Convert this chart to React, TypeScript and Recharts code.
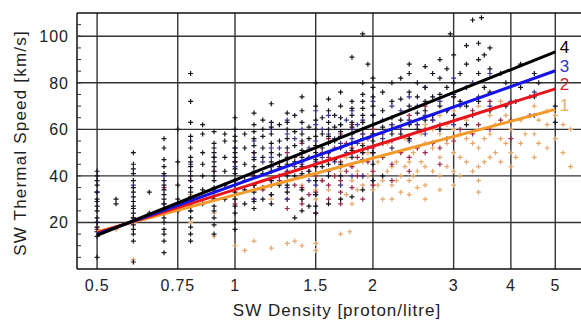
import { ScatterChart, Scatter, XAxis, YAxis, CartesianGrid, ReferenceLine } from 'recharts'

const xTicks = [0.5, 0.75, 1, 1.5, 2, 3, 4, 5]
const yLabelTicks = [20, 40, 60, 80, 100]
const yAllTicks = [5, 10, 15, 20, 25, 30, 35, 40, 45, 50, 55, 60, 65, 70, 75, 80, 85, 90, 95, 100, 105]

// fitted lines, end points at 0.5 and 5 protons/litre
const fit1 = [{ x: 0.5, y: 16 }, { x: 5, y: 68.6 }]
const fit2 = [{ x: 0.5, y: 15.5 }, { x: 5, y: 77.4 }]
const fit3 = [{ x: 0.5, y: 15 }, { x: 5, y: 85.2 }]
const fit4 = [{ x: 0.5, y: 14.5 }, { x: 5, y: 93.3 }]

const group4Pts: [number, number][] = [
  [0.5, 5], [0.5, 14], [0.5, 16], [0.5, 18], [0.5, 20], [0.5, 22], [0.5, 25], [0.5, 27], [0.5, 29], [0.5, 30], [0.5, 33], [0.5, 36], [0.5, 38], [0.5, 40], [0.5, 42],
  [0.55, 28], [0.55, 30],
  [0.6, 3], [0.6, 12], [0.6, 15], [0.6, 17], [0.6, 19], [0.6, 22], [0.6, 24], [0.6, 26], [0.6, 27], [0.6, 29], [0.6, 31], [0.6, 33], [0.6, 35], [0.6, 38], [0.6, 41], [0.6, 43], [0.6, 45], [0.6, 50],
  [0.65, 33], [0.65, 24],
  [0.7, 7], [0.7, 12], [0.7, 15], [0.7, 17], [0.7, 20], [0.7, 22], [0.7, 26], [0.7, 28], [0.7, 30], [0.7, 32], [0.7, 34], [0.7, 36], [0.7, 38], [0.7, 41], [0.7, 44], [0.7, 47], [0.7, 52], [0.7, 56],
  [0.75, 25], [0.75, 30], [0.75, 36], [0.75, 46], [0.75, 60],
  [0.8, 12], [0.8, 15], [0.8, 18], [0.8, 22], [0.8, 25], [0.8, 27], [0.8, 29], [0.8, 31], [0.8, 33], [0.8, 35], [0.8, 38], [0.8, 40], [0.8, 42], [0.8, 44], [0.8, 46], [0.8, 48], [0.8, 52], [0.8, 55], [0.8, 57], [0.8, 63], [0.8, 72], [0.8, 84],
  [0.85, 28], [0.85, 34], [0.85, 40], [0.85, 45], [0.85, 50], [0.85, 58], [0.85, 62],
  [0.9, 15], [0.9, 19], [0.9, 22], [0.9, 25], [0.9, 27], [0.9, 30], [0.9, 33], [0.9, 35], [0.9, 38], [0.9, 40], [0.9, 42], [0.9, 44], [0.9, 46], [0.9, 48], [0.9, 50], [0.9, 52], [0.9, 54], [0.9, 59],
  [0.95, 30], [0.95, 36], [0.95, 42], [0.95, 48], [0.95, 55], [0.95, 58],
  [1.0, 17], [1.0, 20], [1.0, 24], [1.0, 27], [1.0, 30], [1.0, 33], [1.0, 36], [1.0, 38], [1.0, 41], [1.0, 43], [1.0, 46], [1.0, 48], [1.0, 50], [1.0, 52], [1.0, 55], [1.0, 57], [1.0, 60], [1.0, 65],
  [1.05, 28], [1.05, 34], [1.05, 38], [1.05, 45], [1.05, 52], [1.05, 58],
  [1.1, 26], [1.1, 29], [1.1, 33], [1.1, 36], [1.1, 40], [1.1, 44], [1.1, 47], [1.1, 50], [1.1, 53], [1.1, 56], [1.1, 59], [1.1, 62], [1.1, 67],
  [1.15, 30], [1.15, 35], [1.15, 41], [1.15, 48], [1.15, 52], [1.15, 57], [1.15, 60], [1.15, 64],
  [1.2, 28], [1.2, 32], [1.2, 38], [1.2, 42], [1.2, 46], [1.2, 50], [1.2, 54], [1.2, 58], [1.2, 61], [1.2, 63], [1.2, 71],
  [1.25, 36], [1.25, 44], [1.25, 49], [1.25, 55], [1.25, 62],
  [1.3, 33], [1.3, 36], [1.3, 40], [1.3, 45], [1.3, 48], [1.3, 52], [1.3, 56], [1.3, 60], [1.3, 63], [1.3, 67],
  [1.35, 22], [1.35, 40], [1.35, 46], [1.35, 53], [1.35, 59], [1.35, 66],
  [1.4, 25], [1.4, 30], [1.4, 34], [1.4, 41], [1.4, 44], [1.4, 48], [1.4, 51], [1.4, 55], [1.4, 58], [1.4, 63], [1.4, 68], [1.4, 74],
  [1.45, 27], [1.45, 42], [1.45, 48], [1.45, 56], [1.45, 61],
  [1.5, 24], [1.5, 27], [1.5, 32], [1.5, 38], [1.5, 44], [1.5, 47], [1.5, 50], [1.5, 53], [1.5, 57], [1.5, 60], [1.5, 64], [1.5, 70], [1.5, 80],
  [1.55, 44], [1.55, 52], [1.55, 58], [1.55, 65],
  [1.6, 28], [1.6, 40], [1.6, 45], [1.6, 50], [1.6, 54], [1.6, 57], [1.6, 60], [1.6, 63], [1.6, 68], [1.6, 73],
  [1.65, 47], [1.65, 55], [1.65, 61], [1.65, 66],
  [1.7, 30], [1.7, 40], [1.7, 45], [1.7, 52], [1.7, 57], [1.7, 59], [1.7, 62], [1.7, 65], [1.7, 70], [1.7, 76],
  [1.8, 31], [1.8, 48], [1.8, 51], [1.8, 54], [1.8, 58], [1.8, 61], [1.8, 63], [1.8, 66], [1.8, 69], [1.8, 72], [1.8, 91],
  [1.9, 34], [1.9, 50], [1.9, 53], [1.9, 56], [1.9, 60], [1.9, 63], [1.9, 66], [1.9, 69], [1.9, 72], [1.9, 75], [1.9, 80], [1.9, 101],
  [1.95, 88],
  [2.0, 38], [2.0, 45], [2.0, 50], [2.0, 55], [2.0, 58], [2.0, 62], [2.0, 66], [2.0, 70], [2.0, 74], [2.0, 78], [2.0, 82],
  [2.1, 40], [2.1, 54], [2.1, 61], [2.1, 68], [2.1, 76],
  [2.2, 58], [2.2, 60], [2.2, 65], [2.2, 72], [2.2, 80],
  [2.3, 58], [2.3, 64], [2.3, 73], [2.3, 82],
  [2.4, 56], [2.4, 62], [2.4, 70], [2.4, 76], [2.4, 84], [2.4, 88],
  [2.5, 60], [2.5, 67], [2.5, 74], [2.5, 80],
  [2.6, 64], [2.6, 68], [2.6, 72], [2.6, 78], [2.6, 87],
  [2.7, 66], [2.7, 74], [2.7, 84],
  [2.8, 60], [2.8, 70], [2.8, 75], [2.8, 82], [2.8, 90],
  [2.9, 68], [2.9, 78], [2.9, 86],
  [2.95, 101],
  [3.0, 66], [3.0, 74], [3.0, 80], [3.0, 92],
  [3.1, 72], [3.1, 84],
  [3.2, 62], [3.2, 70], [3.2, 78], [3.2, 88], [3.2, 96],
  [3.3, 107], [3.45, 108], [3.4, 97],
  [3.4, 72], [3.4, 84], [3.4, 90],
  [3.5, 78], [3.5, 92],
  [3.6, 68], [3.6, 76], [3.6, 86], [3.6, 95],
  [3.8, 84],
  [3.9, 70], [3.9, 80],
  [4.1, 72],
  [4.2, 78], [4.2, 88],
  [4.5, 74], [4.5, 84], [4.6, 80],
  [5.0, 63], [5.0, 70],
]

const group3Pts: [number, number][] = [
  [0.5, 20], [0.5, 33],
  [0.6, 22], [0.6, 36],
  [0.7, 28], [0.7, 40],
  [0.8, 25], [0.8, 30], [0.8, 45],
  [0.9, 34], [0.9, 48],
  [1.0, 32], [1.0, 44], [1.0, 52],
  [1.1, 30], [1.1, 36], [1.1, 42], [1.1, 48], [1.1, 55],
  [1.15, 46],
  [1.2, 38], [1.2, 44], [1.2, 48], [1.2, 52], [1.2, 60],
  [1.25, 40], [1.25, 52],
  [1.3, 30], [1.3, 35], [1.3, 42], [1.3, 47], [1.3, 58], [1.3, 64],
  [1.35, 44], [1.35, 56],
  [1.4, 40], [1.4, 45], [1.4, 50], [1.4, 60],
  [1.45, 38], [1.45, 52],
  [1.5, 32], [1.5, 36], [1.5, 46], [1.5, 55], [1.5, 62], [1.5, 68],
  [1.55, 48], [1.55, 60],
  [1.6, 42], [1.6, 50], [1.6, 58], [1.6, 66],
  [1.65, 46], [1.65, 56],
  [1.7, 36], [1.7, 44], [1.7, 54], [1.7, 62],
  [1.75, 50], [1.75, 64],
  [1.8, 40], [1.8, 50], [1.8, 56], [1.8, 60], [1.8, 68],
  [1.85, 54], [1.85, 62],
  [1.9, 40], [1.9, 47], [1.9, 58], [1.9, 64],
  [1.95, 52],
  [2.0, 50], [2.0, 58], [2.0, 66], [2.0, 72],
  [2.1, 56], [2.1, 64],
  [2.2, 52], [2.2, 62], [2.2, 70],
  [2.3, 60], [2.3, 68],
  [2.4, 55], [2.4, 64], [2.4, 74],
  [2.5, 62], [2.5, 70],
  [2.6, 58], [2.6, 66], [2.6, 78],
  [2.7, 64],
  [2.8, 60], [2.8, 72],
  [2.9, 68],
  [3.0, 62], [3.0, 75], [3.0, 82],
  [3.1, 70],
  [3.3, 66], [3.3, 80],
  [3.4, 74],
  [3.6, 70], [3.6, 84],
  [4.0, 72],
  [4.5, 66], [4.5, 76],
]

const group2Pts: [number, number][] = [
  [0.5, 17],
  [0.6, 20],
  [0.7, 24], [0.7, 35],
  [0.8, 28], [0.8, 38],
  [0.9, 30], [0.9, 42],
  [1.0, 28], [1.0, 38], [1.0, 46],
  [1.1, 30], [1.1, 40], [1.1, 50],
  [1.15, 34],
  [1.2, 32], [1.2, 36], [1.2, 44],
  [1.25, 38], [1.25, 46],
  [1.3, 26], [1.3, 30], [1.3, 42], [1.3, 50],
  [1.35, 36], [1.35, 48],
  [1.4, 28], [1.4, 35], [1.4, 46], [1.4, 54],
  [1.45, 32], [1.45, 42],
  [1.5, 24], [1.5, 33], [1.5, 40], [1.5, 44], [1.5, 52],
  [1.55, 38], [1.55, 50],
  [1.6, 30], [1.6, 36], [1.6, 48], [1.6, 56],
  [1.65, 40], [1.65, 52],
  [1.7, 28], [1.7, 33], [1.7, 38], [1.7, 46], [1.7, 58],
  [1.75, 42], [1.75, 54],
  [1.8, 35], [1.8, 44], [1.8, 52], [1.8, 62],
  [1.85, 40], [1.85, 48],
  [1.9, 30], [1.9, 40], [1.9, 50], [1.9, 58],
  [1.95, 46], [1.95, 56],
  [2.0, 36], [2.0, 42], [2.0, 52], [2.0, 60],
  [2.1, 48], [2.1, 58],
  [2.2, 38], [2.2, 45], [2.2, 55], [2.2, 62],
  [2.3, 50], [2.3, 60],
  [2.4, 42], [2.4, 48], [2.4, 56], [2.4, 66],
  [2.5, 52], [2.5, 62],
  [2.6, 50], [2.6, 60], [2.6, 70],
  [2.7, 54], [2.7, 64],
  [2.8, 45], [2.8, 52], [2.8, 62],
  [2.9, 56],
  [3.0, 55], [3.0, 66], [3.0, 74],
  [3.1, 60],
  [3.3, 58], [3.3, 68],
  [3.4, 62],
  [3.6, 60], [3.6, 72],
  [3.8, 64],
  [4.0, 56], [4.0, 64],
  [4.4, 66], [4.4, 74],
]

const group1Pts: [number, number][] = [
  [0.5, 16], [0.5, 18],
  [0.55, 17],
  [0.6, 4], [0.6, 22],
  [0.7, 26],
  [0.8, 20], [0.8, 32],
  [0.9, 14], [0.9, 24],
  [1.0, 10], [1.0, 30], [1.0, 36],
  [1.05, 8],
  [1.1, 12], [1.1, 34], [1.1, 40],
  [1.2, 9], [1.2, 30], [1.2, 36], [1.2, 42],
  [1.3, 11], [1.3, 33], [1.3, 38], [1.3, 45],
  [1.35, 12],
  [1.4, 10], [1.4, 30], [1.4, 36], [1.4, 44],
  [1.5, 8], [1.5, 11], [1.5, 30], [1.5, 34], [1.5, 40], [1.5, 48],
  [1.55, 38],
  [1.6, 28], [1.6, 34], [1.6, 42], [1.6, 50],
  [1.65, 40],
  [1.7, 15], [1.7, 30], [1.7, 36], [1.7, 42], [1.7, 46],
  [1.75, 32], [1.75, 48],
  [1.78, 16],
  [1.8, 28], [1.8, 38], [1.8, 44], [1.8, 52],
  [1.85, 34], [1.85, 42],
  [1.9, 36], [1.9, 46], [1.9, 54],
  [1.95, 40], [1.95, 50],
  [2.0, 34], [2.0, 42], [2.0, 50], [2.0, 58],
  [2.05, 36], [2.05, 46],
  [2.1, 30], [2.1, 38], [2.1, 48],
  [2.15, 42], [2.15, 54],
  [2.2, 30], [2.2, 36], [2.2, 44], [2.2, 52], [2.2, 60],
  [2.25, 38], [2.25, 46],
  [2.3, 33], [2.3, 40], [2.3, 50],
  [2.35, 44], [2.35, 56],
  [2.4, 32], [2.4, 38], [2.4, 46], [2.4, 56], [2.4, 64],
  [2.45, 40], [2.45, 50],
  [2.5, 35], [2.5, 42], [2.5, 52],
  [2.55, 46], [2.55, 58],
  [2.6, 30], [2.6, 36], [2.6, 44], [2.6, 54], [2.6, 62],
  [2.7, 42], [2.7, 52], [2.7, 60],
  [2.8, 34], [2.8, 40], [2.8, 48], [2.8, 58], [2.8, 66],
  [2.9, 44], [2.9, 54], [2.9, 62],
  [3.0, 36], [3.0, 42], [3.0, 50], [3.0, 60], [3.0, 68],
  [3.1, 40], [3.1, 48], [3.1, 58],
  [3.2, 46], [3.2, 56], [3.2, 64],
  [3.3, 42], [3.3, 54], [3.3, 66],
  [3.4, 33], [3.4, 38], [3.4, 44], [3.4, 52], [3.4, 62], [3.4, 70],
  [3.5, 46], [3.5, 56],
  [3.6, 48], [3.6, 58], [3.6, 66],
  [3.7, 50], [3.7, 62],
  [3.8, 46], [3.8, 56], [3.8, 72],
  [3.9, 54], [3.9, 66],
  [4.0, 44], [4.0, 50], [4.0, 60],
  [4.1, 48],
  [4.2, 54], [4.2, 64],
  [4.3, 58],
  [4.5, 48], [4.5, 58], [4.5, 70],
  [4.6, 54], [4.6, 64],
  [4.8, 52], [4.8, 62], [4.8, 68],
  [5.0, 56], [5.0, 66],
  [5.2, 50], [5.2, 62],
  [5.4, 44], [5.4, 60],
]

const toPts = (arr: [number, number][]) => arr.map(([x, y]) => ({ x, y }))

const font = '"Liberation Sans", Arial, sans-serif'

const plus = (color: string) => (props: any) => {
  const { cx, cy } = props
  if (cx == null || cy == null) return <g />
  return (
    <path
      d={`M${cx - 2.5},${cy}h5M${cx},${cy - 2.5}v5`}
      stroke={color}
      strokeWidth={1.2}
      fill="none"
    />
  )
}

const noDot = () => <g />

const endLabel = (text: string, color: string) => (props: any) => {
  const { x, y, index } = props
  if (index !== 1) return null
  return (
    <text x={x + 9} y={y} dy="0.36em" fill={color} fontSize={17} letterSpacing={1} fontFamily={font}>
      {text}
    </text>
  )
}

const YTick = (props: any) => {
  const { y, payload } = props
  const v = payload.value
  return (
    <g>
      <line x1={77} x2={81} y1={y} y2={y} stroke="#333" strokeWidth={1} />
      {v % 20 === 0 && (
        <text x={69} y={y} dy="0.36em" textAnchor="end" fill="#222" fontSize={16} letterSpacing={1} fontFamily={font}>
          {v}
        </text>
      )}
    </g>
  )
}

const XTick = (props: any) => {
  const { x, payload } = props
  return (
    <text x={x} y={291} textAnchor="middle" fill="#222" fontSize={16} letterSpacing={0.8} fontFamily={font}>
      {String(payload.value)}
    </text>
  )
}

export default function App() {
  return (
    <div style={{ width: 581, height: 320, background: '#fff', position: 'relative' }}>
      <style>{'body{margin:0}'}</style>
      <ScatterChart width={581} height={320} margin={{ top: 13, right: 0, bottom: 0, left: 0 }}>
        <CartesianGrid
          verticalValues={xTicks}
          horizontalValues={yLabelTicks}
          stroke="#333"
          strokeWidth={1.4}
        />
        <XAxis
          type="number"
          dataKey="x"
          scale="log"
          domain={[0.452, 5.69]}
          allowDataOverflow
          ticks={xTicks}
          tick={XTick}
          tickLine={false}
          axisLine={{ stroke: '#111', strokeWidth: 1.5 }}
          height={51}
        />
        <YAxis
          type="number"
          dataKey="y"
          domain={[0, 110]}
          allowDataOverflow
          ticks={yAllTicks}
          interval={0}
          tick={YTick}
          tickLine={false}
          axisLine={{ stroke: '#111', strokeWidth: 1.5 }}
          width={77}
        />
        <ReferenceLine y={110} stroke="#111" strokeWidth={1.5} />
        <Scatter data={toPts(group1Pts)} shape={plus('#e6a868')} isAnimationActive={false} />
        <Scatter data={toPts(group2Pts)} shape={plus('#9c2448')} isAnimationActive={false} />
        <Scatter data={toPts(group3Pts)} shape={plus('#3a3090')} isAnimationActive={false} />
        <Scatter data={toPts(group4Pts)} shape={plus('#15151f')} isAnimationActive={false} />
        <Scatter data={fit1} shape={noDot} line={{ stroke: '#f39a2a', strokeWidth: 3 }} label={endLabel('1', '#e2b060')} isAnimationActive={false} />
        <Scatter data={fit2} shape={noDot} line={{ stroke: '#e8141c', strokeWidth: 3 }} label={endLabel('2', '#d8202a')} isAnimationActive={false} />
        <Scatter data={fit3} shape={noDot} line={{ stroke: '#1414e6', strokeWidth: 3 }} label={endLabel('3', '#3434c8')} isAnimationActive={false} />
        <Scatter data={fit4} shape={noDot} line={{ stroke: '#000', strokeWidth: 3 }} label={endLabel('4', '#000')} isAnimationActive={false} />
      </ScatterChart>
      <svg width={581} height={320} style={{ position: 'absolute', left: 0, top: 0, pointerEvents: 'none' }}>
        <text x={26} y={143} transform="rotate(-90, 26, 143)" textAnchor="middle" fill="#222" fontSize={17} letterSpacing={1.2} fontFamily={font}>
          SW Thermal Speed [km/s]
        </text>
        <text x={337} y={316} textAnchor="middle" fill="#222" fontSize={17} letterSpacing={1} fontFamily={font}>
          SW Density [proton/litre]
        </text>
      </svg>
    </div>
  )
}
